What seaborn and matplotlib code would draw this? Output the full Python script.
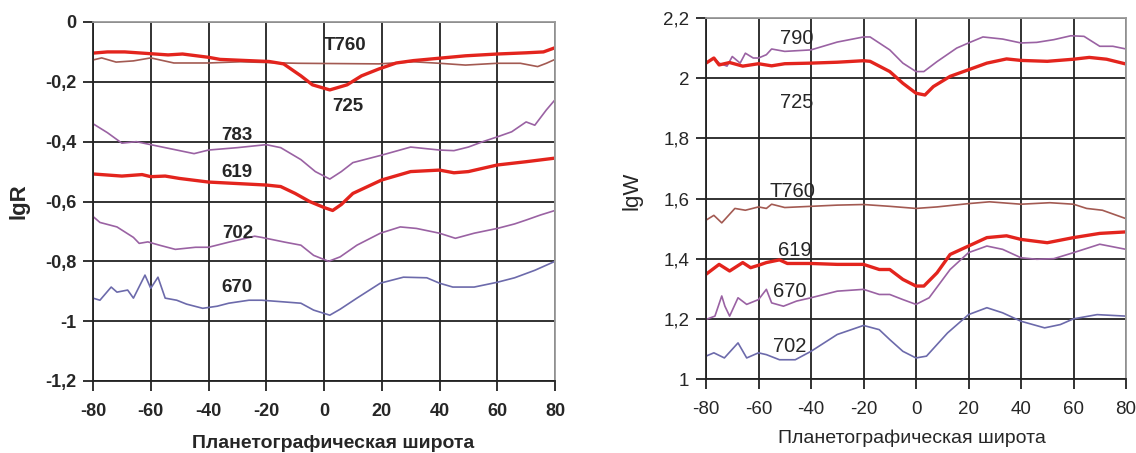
import numpy as np
import matplotlib
matplotlib.use('Agg')
import matplotlib.pyplot as plt
import matplotlib.ticker as mticker
import seaborn as sn

# ---- left panel : lgR ----
lat_725L=[-80,-75,-69,-60,-54,-49,-40,-36,-24,-19,-14,-8,-4,2,8,13,19,25,31,40,49,60,70,76,80]
val_725L=[-0.104,-0.1,-0.1,-0.106,-0.11,-0.107,-0.118,-0.125,-0.13,-0.132,-0.14,-0.18,-0.21,-0.227,-0.21,-0.18,-0.157,-0.137,-0.129,-0.121,-0.113,-0.107,-0.103,-0.1,-0.086]
lat_T760L=[-80,-77,-72,-66,-60,-52,-40,-29,-14,-9,19,31,40,49,60,68,74,77,80]
val_T760L=[-0.127,-0.12,-0.134,-0.13,-0.12,-0.137,-0.137,-0.133,-0.137,-0.138,-0.14,-0.133,-0.138,-0.144,-0.138,-0.138,-0.149,-0.138,-0.125]
lat_783=[-80,-75,-70,-65,-60,-55,-50,-45,-40,-30,-20,-15,-8,-3,2,6,10,20,30,40,45,50,55,60,65,70,73,77,80]
val_783=[-0.34,-0.37,-0.405,-0.40,-0.41,-0.42,-0.43,-0.44,-0.428,-0.42,-0.41,-0.42,-0.46,-0.50,-0.525,-0.50,-0.47,-0.445,-0.418,-0.428,-0.43,-0.418,-0.40,-0.384,-0.367,-0.334,-0.345,-0.294,-0.26]
lat_619L=[-80,-70,-63,-60,-55,-50,-40,-30,-20,-15,-10,-5,0,3,6,10,20,30,40,45,50,60,70,80]
val_619L=[-0.508,-0.515,-0.51,-0.517,-0.515,-0.523,-0.535,-0.54,-0.545,-0.55,-0.573,-0.60,-0.62,-0.63,-0.61,-0.573,-0.528,-0.50,-0.495,-0.504,-0.50,-0.478,-0.467,-0.455]
lat_702L=[-80,-77.6,-71.7,-66,-64,-61,-57,-51.5,-44.5,-40,-33,-24,-21.6,-13.5,-8,-3.6,1.6,5.6,11.4,19.5,26.4,32,40,45.5,52,60,66,70,75,80]
val_702L=[-0.65,-0.67,-0.685,-0.72,-0.74,-0.735,-0.746,-0.76,-0.753,-0.753,-0.736,-0.716,-0.72,-0.736,-0.746,-0.78,-0.80,-0.785,-0.746,-0.706,-0.685,-0.69,-0.706,-0.723,-0.706,-0.69,-0.675,-0.662,-0.645,-0.63]
lat_670L=[-80,-77.6,-73.7,-71.7,-68,-66,-62,-60,-57.5,-55,-51,-47.6,-42,-37,-33,-26,-21.6,-14.7,-8,-3.6,2,5.6,11.4,19.5,27.5,35.6,40,44.6,52,60,66,73,80]
val_670L=[-0.923,-0.93,-0.886,-0.903,-0.896,-0.923,-0.846,-0.89,-0.853,-0.923,-0.93,-0.943,-0.957,-0.95,-0.94,-0.93,-0.93,-0.935,-0.94,-0.963,-0.98,-0.96,-0.923,-0.873,-0.853,-0.855,-0.873,-0.886,-0.886,-0.87,-0.855,-0.83,-0.80]

# ---- right panel : lgW ----
lat_790=[-80,-77,-75,-72,-70,-67,-65,-62,-60,-57,-55,-50,-40,-30,-20,-17.5,-10,-5,0,3,8,15.5,20,25.5,33,40,46,52.5,59,64,70,75,80]
val_790=[2.05,2.067,2.05,2.04,2.072,2.05,2.083,2.067,2.067,2.078,2.097,2.089,2.094,2.12,2.137,2.137,2.094,2.05,2.022,2.022,2.055,2.10,2.117,2.137,2.13,2.117,2.119,2.128,2.141,2.139,2.106,2.106,2.097]
lat_725R=[-80,-77,-75,-71,-66,-60,-55,-50,-40,-30,-20,-17.5,-10,-5,0,3.4,6.6,13,20,27,34.5,40,50,60,66,72.6,80]
val_725R=[2.05,2.067,2.044,2.052,2.04,2.048,2.041,2.048,2.05,2.053,2.058,2.056,2.022,1.983,1.95,1.944,1.972,2.006,2.028,2.05,2.064,2.059,2.056,2.063,2.069,2.063,2.047]
lat_T760R=[-80,-77,-74,-69,-65,-60,-57,-55,-50,-40,-30,-20,-10,0,8,20,28,40,51,60,65,71,80]
val_T760R=[1.528,1.544,1.519,1.567,1.561,1.572,1.567,1.581,1.57,1.574,1.578,1.58,1.574,1.567,1.572,1.583,1.589,1.581,1.586,1.581,1.567,1.561,1.533]
lat_619R=[-80,-75,-71,-66,-63,-60,-57,-52,-49,-40,-30,-20,-14,-10,-5,0,3,8,13,20,27,34.5,40,50,60,70,80]
val_619R=[1.348,1.381,1.359,1.387,1.37,1.378,1.387,1.396,1.384,1.384,1.381,1.381,1.364,1.364,1.331,1.309,1.309,1.353,1.414,1.442,1.47,1.476,1.464,1.453,1.47,1.484,1.489]
lat_670R=[-80,-76.6,-74,-72.8,-71,-67.8,-64.5,-60,-57,-55,-50.5,-45.5,-40,-30,-20,-14,-10,-5,0,5,13,20,27,33,40,46,52.5,60,70,80]
val_670R=[1.198,1.209,1.276,1.242,1.209,1.27,1.248,1.264,1.298,1.253,1.242,1.259,1.27,1.292,1.298,1.281,1.281,1.264,1.248,1.27,1.364,1.42,1.442,1.431,1.403,1.398,1.40,1.42,1.448,1.431]
lat_702R=[-80,-77,-73,-67.8,-64.5,-60,-57,-52,-46,-40,-30,-20,-14,-10,-5,0,4,12,20,27,33,40,49,55,60,69,80]
val_702R=[1.076,1.087,1.07,1.12,1.07,1.087,1.081,1.064,1.064,1.092,1.148,1.178,1.164,1.131,1.092,1.07,1.076,1.153,1.214,1.237,1.22,1.192,1.17,1.181,1.20,1.214,1.209]

xticks=[-80,-60,-40,-20,0,20,40,60,80]
xlabel='Планетографическая широта'

RED='#e3241d' ; PURPLE='#9a62a3' ; BLUE='#6c6aab' ; BROWN='#a35a52'

sn.set_style('white')
plt.rcParams['font.family']=['Liberation Sans','DejaVu Sans']
plt.rcParams['axes.unicode_minus']=False

def comma(v,pos):
    s=('%.1f'%v).rstrip('0').rstrip('.')
    if s=='-0': s='0'
    return s.replace('.',',')

def styleaxis(ax,weight,fs):
    ax.set_xlim(-80,80) ; ax.set_xticks(xticks)
    ax.grid(True,color='#222222',linewidth=1.3)
    ax.set_axisbelow(True)
    ax.yaxis.set_major_formatter(mticker.FuncFormatter(comma))
    ax.tick_params(direction='out',length=7,width=1.3,color='#222222',labelsize=fs,left=True,bottom=True)
    ax.tick_params(axis='x',pad=9)
    ax.tick_params(axis='y',pad=5)
    for lab in ax.get_xticklabels()+ax.get_yticklabels():
        lab.set_fontweight(weight)
    for s in ['left','bottom']:
        ax.spines[s].set_color('#222222') ; ax.spines[s].set_linewidth(1.3)
    for s in ['top','right']:
        ax.spines[s].set_color('#9a9a9a') ; ax.spines[s].set_linewidth(1.3)

fig=plt.figure(figsize=(11.36,4.53),dpi=100)
ax1=fig.add_axes([93/1136,1-381/453,462/1136,359/453])
ax2=fig.add_axes([706/1136,1-379/453,420/1136,361/453])

sn.lineplot(x=lat_T760L,y=val_T760L,ax=ax1,color=BROWN,linewidth=1.2)
sn.lineplot(x=lat_725L,y=val_725L,ax=ax1,color=RED,linewidth=2.4)
sn.lineplot(x=lat_783,y=val_783,ax=ax1,color=PURPLE,linewidth=1.2)
sn.lineplot(x=lat_619L,y=val_619L,ax=ax1,color=RED,linewidth=2.4)
sn.lineplot(x=lat_702L,y=val_702L,ax=ax1,color=PURPLE,linewidth=1.2)
sn.lineplot(x=lat_670L,y=val_670L,ax=ax1,color=BLUE,linewidth=1.2)
ax1.set_ylim(-1.2,0) ; ax1.set_yticks(np.arange(-1.2,0.01,0.2))
styleaxis(ax1,'bold',13)
ax1.set_ylabel('lgR',fontsize=16,fontweight='bold')
ax1.set_xlabel(xlabel,fontsize=14,fontweight='bold',va='center')
ax1.yaxis.set_label_coords(-0.137,0.5)
ax1.xaxis.set_label_coords(0.52,-0.173)
for txt,x,y in [('T760',7.3,-0.077),('725',8.3,-0.284),('783',-30,-0.378),('619',-30,-0.502),('702',-30,-0.706),('670',-30,-0.886)]:
    ax1.text(x,y,txt,fontsize=13.5,fontweight='bold',ha='center',va='center')

sn.lineplot(x=lat_790,y=val_790,ax=ax2,color=PURPLE,linewidth=1.2)
sn.lineplot(x=lat_725R,y=val_725R,ax=ax2,color=RED,linewidth=2.4)
sn.lineplot(x=lat_T760R,y=val_T760R,ax=ax2,color=BROWN,linewidth=1.2)
sn.lineplot(x=lat_670R,y=val_670R,ax=ax2,color=PURPLE,linewidth=1.2)
sn.lineplot(x=lat_619R,y=val_619R,ax=ax2,color=RED,linewidth=2.4)
sn.lineplot(x=lat_702R,y=val_702R,ax=ax2,color=BLUE,linewidth=1.2)
ax2.set_ylim(1.0,2.2) ; ax2.set_yticks(np.arange(1.0,2.21,0.2))
styleaxis(ax2,'normal',13.5)
ax2.set_ylabel('lgW',fontsize=16)
ax2.set_xlabel(xlabel,fontsize=14,va='center')
ax2.yaxis.set_label_coords(-0.152,0.52)
ax2.xaxis.set_label_coords(0.49,-0.163)
for txt,x,y in [('790',-45.3,2.133),('725',-45.3,1.92),('T760',-47,1.622),('619',-46,1.426),('670',-48,1.292),('702',-48,1.109)]:
    ax2.text(x,y,txt,fontsize=14.5,ha='center',va='center')

plt.savefig('out.png',dpi=100)
plt.close()
